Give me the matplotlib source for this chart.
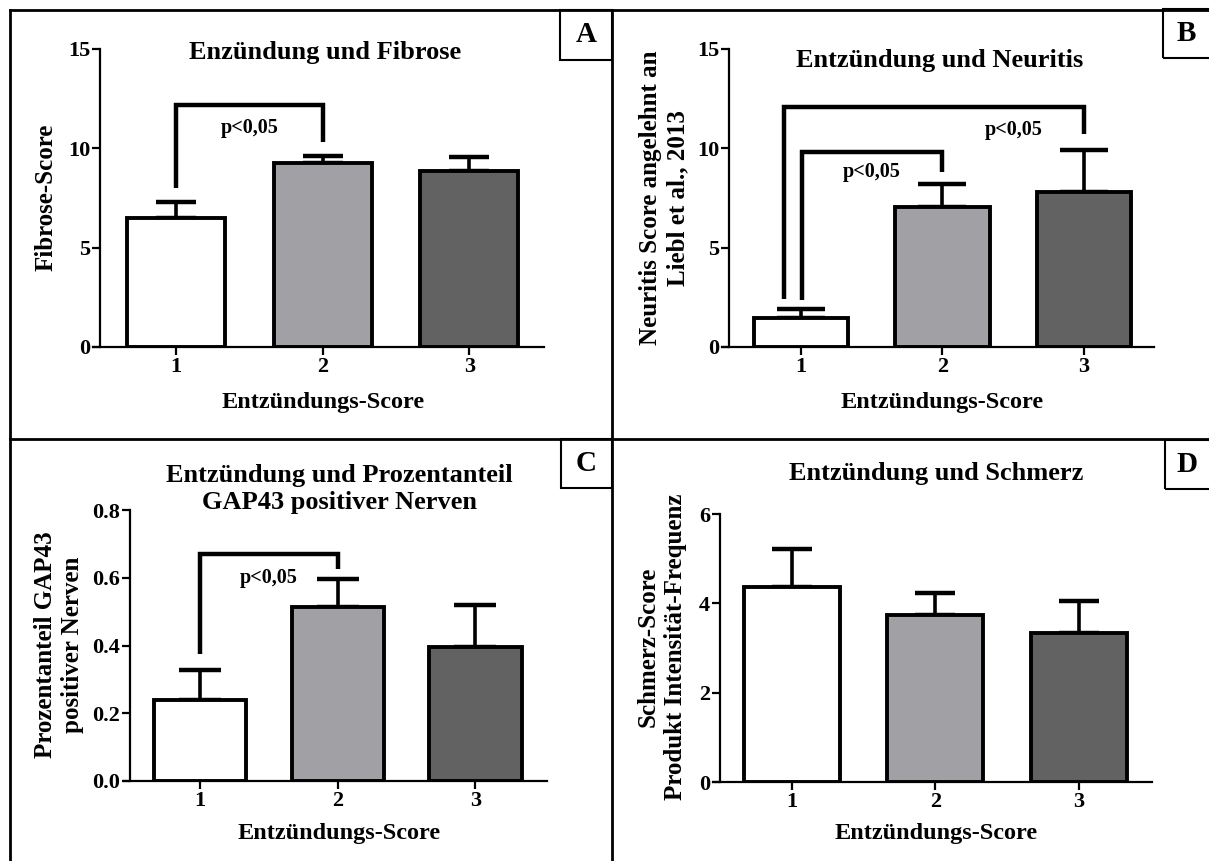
# -*- coding: UTF-8 -*-
import numpy as np
import matplotlib
matplotlib.use('Agg')
import matplotlib.pyplot as plt
from matplotlib.lines import Line2D
from matplotlib.patches import Rectangle
from matplotlib.ticker import FormatStrFormatter

plt.rcParams['font.family'] = ['Liberation Serif', 'DejaVu Serif']
plt.rcParams['font.weight'] = 'bold'

# Entzündungs-Score 1..3
groups = [1, 2, 3]
tick_labels = ['1', '2', '3']
bar_colors = ['#ffffff', '#a1a1a5', '#626262']

# A: Fibrose
fib_mean = [6.5, 9.27, 8.88]
fib_sem = [0.8, 0.35, 0.67]
# B: Neuritis
neu_mean = [1.45, 7.05, 7.8]
neu_sem = [0.45, 1.15, 2.1]
# C: GAP43
gap_mean = [0.239, 0.513, 0.395]
gap_sem = [0.09, 0.083, 0.125]
# D: Schmerz
pain_mean = [4.36, 3.74, 3.33]
pain_sem = [0.85, 0.49, 0.72]

W, H = 1209, 861
fig = plt.figure(figsize=(W / 100, H / 100), dpi=100)
fig.patch.set_facecolor('white')


def fx(x):
    return x / W


def fy(y):
    return 1 - y / H


def panel(box, xlim, spine_x, ylim, yticks, mean, sem, capsize):
    l, r, t, b = box
    ax = fig.add_axes([fx(l), fy(b), fx(r - l), (b - t) / H])
    ax.patch.set_alpha(0)
    ax.errorbar(groups, mean, yerr=[np.zeros(3), sem], fmt='none', ecolor='black',
                elinewidth=2.6, capsize=capsize, capthick=3.2, zorder=1)
    ax.bar(groups, mean, width=0.67, color=bar_colors, edgecolor='black',
           linewidth=2.8, zorder=2)
    ax.set_xlim(*xlim)
    ax.set_ylim(*ylim)
    ax.set_yticks(yticks)
    ax.set_xticks(groups)
    ax.set_xticklabels(tick_labels)
    ax.spines['top'].set_color('none')
    ax.spines['right'].set_color('none')
    ax.spines['left'].set_position(('data', spine_x))
    ax.spines['left'].set_linewidth(1.6)
    ax.spines['bottom'].set_linewidth(1.6)
    ax.spines['left'].set_bounds(ylim[0], ylim[1])
    ax.tick_params(direction='out', length=5.5, width=1.6, labelsize=16, pad=1.5)
    for lab in ax.get_xticklabels() + ax.get_yticklabels():
        lab.set_fontweight('bold')
    return ax


def bracket(ax, x1, x2, top, y1, y2):
    ax.plot([x1, x1, x2, x2], [y1, top, top, y2], color='black', lw=3.2,
            solid_joinstyle='miter', solid_capstyle='butt', zorder=3)


def ptext(ax, x, y):
    ax.text(x, y, 'p<0,05', ha='center', va='center', fontsize=14.5,
            fontweight='bold')


# A
axA = panel((93, 544, 49, 347), (0.433, 3.51), 0.48, (0, 15), [0, 5, 10, 15],
            fib_mean, fib_sem, 14.5)
bracket(axA, 1, 2, 12.2, 8.0, 10.3)
ptext(axA, 1.5, 11.0)

# B
axB = panel((722, 1154, 49, 347), (0.442, 3.495), 0.491, (0, 15), [0, 5, 10, 15],
            neu_mean, neu_sem, 17)
bracket(axB, 1.01, 2, 9.8, 2.35, 8.8)
bracket(axB, 0.88, 3, 12.1, 2.4, 10.7)
ptext(axB, 1.5, 8.8)
ptext(axB, 2.5, 10.9)

# C
axC = panel((124, 547, 510, 781), (0.447, 3.52), 0.49, (0, 0.8),
            [0.0, 0.2, 0.4, 0.6, 0.8], gap_mean, gap_sem, 15)
axC.yaxis.set_major_formatter(FormatStrFormatter('%.1f'))
bracket(axC, 1, 2, 0.67, 0.375, 0.625)
ptext(axC, 1.5, 0.60)

# D
axD = panel((713, 1152, 514, 782), (0.45, 3.51), 0.498, (0, 6), [0, 2, 4, 6],
            pain_mean, pain_sem, 14.5)

# titles and axis labels
fs_t = 19
fs_x = 17.5
fs_y = 18
fig.text(fx(325), fy(53), 'Enzündung und Fibrose', ha='center', va='center', fontsize=fs_t)
fig.text(fx(940), fy(60), 'Entzündung und Neuritis', ha='center', va='center', fontsize=fs_t)
fig.text(fx(339), fy(489), 'Entzündung und Prozentanteil\nGAP43 positiver Nerven',
         ha='center', va='center', fontsize=fs_t, linespacing=1.2)
fig.text(fx(936), fy(473), 'Entzündung und Schmerz', ha='center', va='center', fontsize=fs_t)

for x, y in [(323, 403), (942, 403), (339, 833), (936, 833)]:
    fig.text(fx(x), fy(y), 'Entzündungs-Score', ha='center', va='center', fontsize=fs_x)

fig.text(fx(46), fy(197), 'Fibrose-Score', ha='center', va='center', rotation=90, fontsize=fs_y)
fig.text(fx(664), fy(198), 'Neuritis Score angelehnt an\nLiebl et al., 2013', ha='center',
         va='center', rotation=90, fontsize=fs_y, linespacing=1.25)
fig.text(fx(59), fy(645), 'Prozentanteil GAP43\npositiver Nerven', ha='center',
         va='center', rotation=90, fontsize=fs_y, linespacing=1.25)
fig.text(fx(662), fy(647), 'Schmerz-Score\nProdukt Intensität-Frequenz', ha='center',
         va='center', rotation=90, fontsize=fs_y, linespacing=1.25)

# frame lines between the panels
frame = [([10, 1209], [10, 10]), ([10, 10], [10, 861]), ([612, 612], [10, 861]),
         ([10, 1209], [439, 439])]
for xs, ys in frame:
    fig.add_artist(Line2D([fx(v) for v in xs], [fy(v) for v in ys], color='black', lw=2))

# letter boxes
for letter, l, t, r, b in [('A', 560, 10, 612, 60), ('B', 1163, 9, 1212, 58),
                           ('C', 561, 439, 612, 488), ('D', 1165, 440, 1212, 489)]:
    fig.add_artist(Rectangle((fx(l), fy(b)), fx(r - l), (b - t) / H, fill=False,
                             edgecolor='black', lw=1.5, transform=fig.transFigure))
    fig.text(fx((l + min(r, 1209)) / 2), fy((t + b) / 2), letter, ha='center', va='center',
             fontsize=21)

plt.savefig('out.png', dpi=100)
